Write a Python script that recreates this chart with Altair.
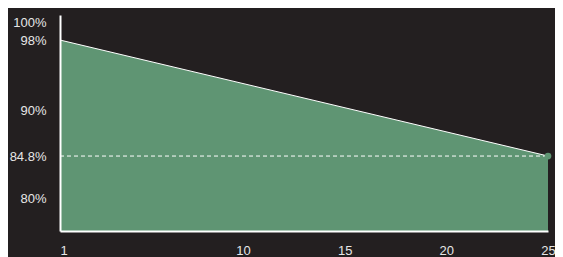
import altair as alt
import pandas as pd

# Data
years = [1, 25]
output_pct = [98.0, 84.8]
x_ticks = [1, 10, 15, 20, 25]
y_ticks = [100, 98, 90, 84.8, 80]

BG = "#231f20"
GREEN = "#5f9573"
TEXT = "#e6e6e6"

W, H = 488, 216
Y_DOMAIN = [76.27, 100.85]

df = pd.DataFrame({"year": years, "pct": output_pct, "base": [Y_DOMAIN[0]] * len(years)})
last = df.iloc[[-1]]

x_scale = alt.Scale(domain=[years[0], years[-1]], nice=False, zero=False)
y_scale = alt.Scale(domain=Y_DOMAIN, nice=False, zero=False)

x_axis = alt.Axis(
    values=x_ticks, title=None, grid=False, ticks=False, tickSize=0,
    domainColor="white", domainWidth=2, labelColor=TEXT, labelFontSize=13,
    labelFont="Liberation Sans", labelPadding=13, labelFlush=False, zindex=1,
    labelAlign={"condition": {"test": "datum.value <= 1", "value": "left"}, "value": "center"},
)
y_axis = alt.Axis(
    values=y_ticks, title=None, grid=False, ticks=False, tickSize=0,
    domainColor="white", domainWidth=2, labelColor=TEXT, labelFontSize=13,
    labelFont="Liberation Sans", labelPadding=14, zindex=1,
    labelExpr="datum.value + '%'",
)

base = alt.Chart(df)

area = base.mark_area(color=GREEN, opacity=1, clip=True).encode(
    x=alt.X("year:Q", scale=x_scale, axis=x_axis),
    y=alt.Y("pct:Q", scale=y_scale, axis=y_axis),
    y2=alt.Y2("base:Q"),
)

line = base.mark_line(color="white", strokeWidth=1).encode(
    x=alt.X("year:Q", scale=x_scale),
    y=alt.Y("pct:Q", scale=y_scale),
)

rule = alt.Chart(last).mark_rule(color="white", strokeWidth=1, strokeDash=[4, 3]).encode(
    x=alt.datum(years[0], scale=x_scale),
    x2=alt.datum(years[-1]),
    y=alt.Y("pct:Q", scale=y_scale),
)

dot = alt.Chart(last).mark_circle(color=GREEN, opacity=1, size=45).encode(
    x=alt.X("year:Q", scale=x_scale),
    y=alt.Y("pct:Q", scale=y_scale),
)

chart = alt.layer(area, line, rule, dot).properties(
    width=W, height=H,
    autosize=alt.AutoSizeParams(type="none"),
    padding={"left": 52, "top": 7, "right": 7, "bottom": 26},
    background=BG,
).configure_view(stroke=None)

chart.save("out.html", embed_options={"renderer": "svg", "actions": False})
